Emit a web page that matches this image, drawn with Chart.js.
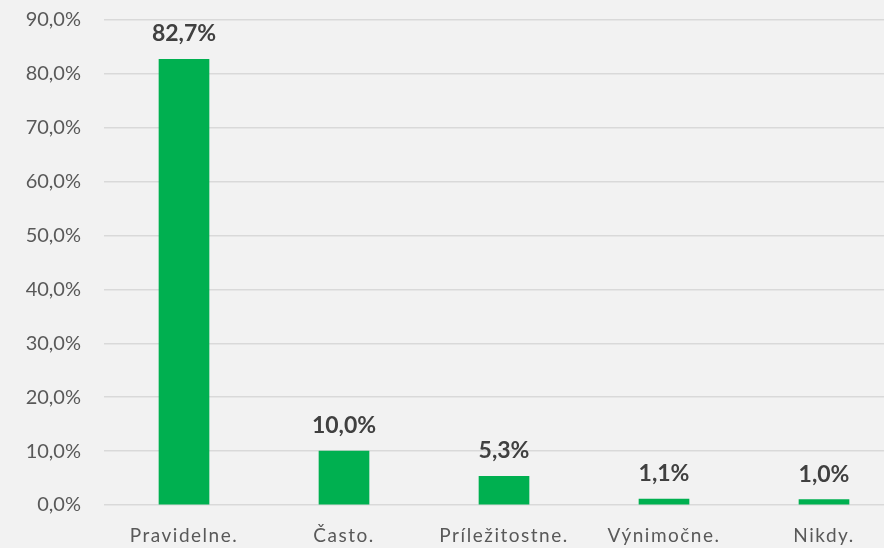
<!DOCTYPE html>
<html>
<head>
<meta charset="utf-8">
<script src="https://cdn.jsdelivr.net/npm/chart.js@4/dist/chart.umd.min.js"></script>
<style>
  html, body { margin: 0; padding: 0; background: #F2F2F2; overflow: hidden; }
  #wrap { width: 904px; height: 548px; }
</style>
</head>
<body>
<div id="wrap"><canvas id="freqChart"></canvas></div>
<script>
const categories = ['Pravidelne.', 'Často.', 'Príležitostne.', 'Výnimočne.', 'Nikdy.'];
const shares = [82.7, 10.0, 5.3, 1.1, 1.0];
const yTicks = [0, 10, 20, 30, 40, 50, 60, 70, 80, 90];

const fmt = v => v.toFixed(1).replace('.', ',') + '%';

// value labels above bars
const valueLabels = {
    id: 'valueLabels',
    afterDatasetsDraw(chart) {
        const ctx = chart.ctx;
        const meta = chart.getDatasetMeta(0);
        ctx.save();
        ctx.font = 'bold 23px Lato';
        ctx.fillStyle = '#404040';
        ctx.textAlign = 'center';
        ctx.textBaseline = 'alphabetic';
        meta.data.forEach((bar, i) => {
            ctx.fillText(fmt(shares[i]), bar.x, bar.y - 18);
        });
        ctx.restore();
    }
};

// spaced-out category labels, like the original
const spacedX = {
    id: 'spacedX',
    beforeDraw(chart) {
        const sc = chart.scales.x;
        if (sc._spaced) return;
        const orig = sc.drawLabels;
        sc.drawLabels = function (area) {
            chart.ctx.letterSpacing = '1.5px';
            orig.call(this, area);
            chart.ctx.letterSpacing = '0px';
        };
        sc._spaced = true;
    }
};

new Chart('freqChart', {
    type: 'bar',
    data: {
        labels: categories,
        datasets: [{
            data: shares,
            backgroundColor: '#00B050',
            barThickness: 50
        }]
    },
    options: {
        responsive: true,
        maintainAspectRatio: false,
        animation: false,
        layout: { padding: { top: 20, right: 0, bottom: 0, left: 0 } },
        plugins: { legend: { display: false }, tooltip: { enabled: false } },
        scales: {
            x: {
                grid: { display: false, drawTicks: false },
                border: { display: false },
                ticks: { color: '#595959', font: { family: 'Lato', size: 19 }, padding: 19 },
                afterFit(scale) { scale.height = 43; }
            },
            y: {
                min: 0,
                max: 90,
                afterBuildTicks(scale) { scale.ticks = yTicks.map(v => ({ value: v })); },
                grid: { color: '#D9D9D9', lineWidth: 1.5, drawTicks: false },
                border: { display: false },
                ticks: {
                    color: '#595959',
                    font: { family: 'Lato', size: 20 },
                    padding: 23,
                    callback: v => fmt(v)
                },
                afterFit(scale) {
                    scale.width = 104;
                    scale.paddingTop = 0;
                    scale.paddingBottom = 0;
                }
            }
        }
    },
    plugins: [valueLabels, spacedX]
});
</script>
</body>
</html>
